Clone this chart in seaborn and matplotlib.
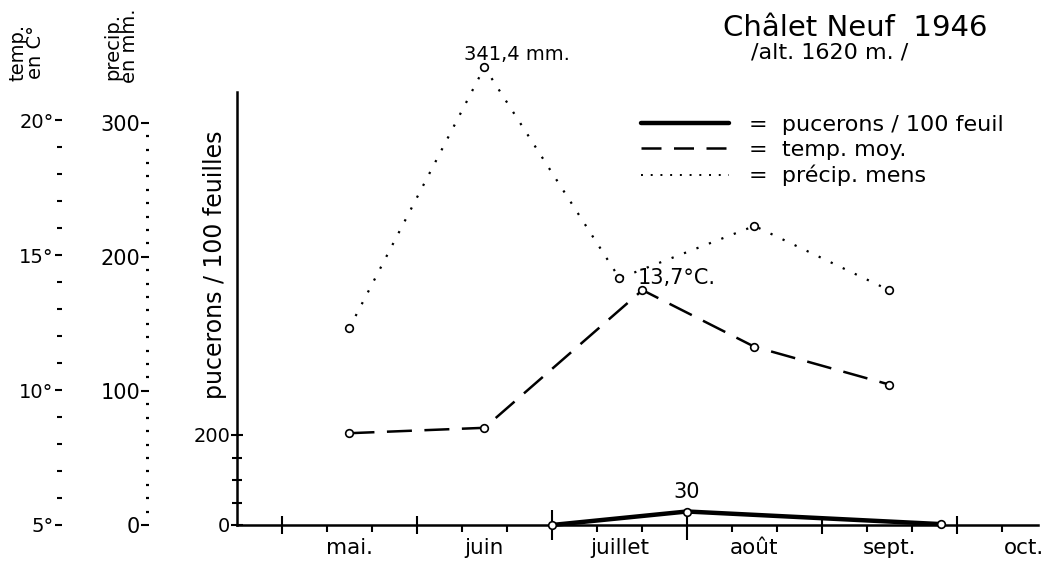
import numpy as np
import pandas as pd
import matplotlib
matplotlib.use("Agg")
import matplotlib.pyplot as plt
import matplotlib.ticker as mticker
import matplotlib.transforms as mtrans
from matplotlib.lines import Line2D
import seaborn as sns

# ---------------- data (x in months: 5 = 1 May, 6 = 1 June, ...) ----------------
month_labels = ["mai.", "juin", "juillet", "août", "sept.", "oct."]
month_starts = [5, 6, 7, 8, 9, 10]

temp_x = [5.5, 6.5, 7.67, 8.5, 9.5]
temp_c = [8.4, 8.6, 13.7, 11.6, 10.2]

precip_x = [5.5, 6.5, 7.5, 8.5, 9.5]
precip_mm = [147, 341.4, 184, 223, 175]

aphid_x = [7.0, 8.0, 9.88]
aphid_n = [0, 30, 2]

temp_ticks = [5, 10, 15, 20]
precip_ticks = [0, 100, 200, 300]
aphid_ticks = [0, 200]

df_t = pd.DataFrame({"x": temp_x, "y": temp_c})
df_p = pd.DataFrame({"x": precip_x, "y": precip_mm})
df_a = pd.DataFrame({"x": aphid_x, "y": aphid_n})

# ---------------- style ----------------
sns.set_theme(style="white")
plt.rcParams["font.family"] = ["DejaVu Sans"]
plt.rcParams["text.color"] = "black"
plt.rcParams["axes.edgecolor"] = "black"
plt.rcParams["xtick.color"] = "black"
plt.rcParams["ytick.color"] = "black"

W, H = 1059, 566
fig = plt.figure(figsize=(W / 100, H / 100), dpi=100)
fig.patch.set_facecolor("white")

ax_left, ax_bottom, ax_w, ax_h = 237, 41, 801, 433
ax = fig.add_axes([ax_left / W, ax_bottom / H, ax_w / W, ax_h / H])
ax.set_xlim(4.667, 10.6)
ax.set_ylim(0, 433 / 0.45)

ax_t = ax.twinx()
ax_t.set_ylim(5, 5 + 433 / 27)
ax_p = ax.twinx()
ax_p.set_ylim(0, 433 / 1.341)

lw_axis = 1.8
mk = dict(marker="o", markersize=5.5, markerfacecolor="white",
          markeredgecolor="black", markeredgewidth=1.2, clip_on=False)

# ---------------- series ----------------
sns.lineplot(data=df_p, x="x", y="y", ax=ax_p, color="black",
             linewidth=1.6, linestyle=(0, (1, 5)), **mk)
sns.lineplot(data=df_t, x="x", y="y", ax=ax_t, color="black",
             linewidth=1.8, linestyle=(0, (10, 5)), **mk)
sns.lineplot(data=df_a, x="x", y="y", ax=ax, color="black",
             linewidth=3.2, solid_capstyle="butt", zorder=5, **mk)

for a in (ax, ax_t, ax_p):
    a.set_xlabel("")
    a.set_ylabel("")

# ---------------- main axis (aphids) ----------------
for s in ("top", "right"):
    ax.spines[s].set_visible(False)
ax.spines["left"].set_linewidth(lw_axis)
ax.spines["bottom"].set_linewidth(lw_axis)
ax.yaxis.set_ticks_position("left")
ax.xaxis.set_ticks_position("bottom")
ax.set_yticks(aphid_ticks)
ax.set_yticklabels([str(v) for v in aphid_ticks], fontsize=14)
ax.yaxis.set_minor_locator(mticker.FixedLocator([50, 100, 150]))
ax.tick_params(axis="y", which="major", direction="inout", length=8, width=1.5, pad=1)
ax.tick_params(axis="y", which="minor", direction="inout", length=7, width=1.5)

# x axis: month boundaries as major ticks, 10-day marks as minor
ax.set_xticks(month_starts)
ax.set_xticklabels([""] * len(month_starts))
minor_x = [m + k / 3 for m in month_starts[:-1] for k in (1, 2)] + [10 + 1 / 3]
ax.xaxis.set_minor_locator(mticker.FixedLocator(minor_x))
ax.tick_params(axis="x", which="major", direction="inout", length=13, width=1.5,
               bottom=True)
ax.tick_params(axis="x", which="minor", direction="out", length=5, width=1.5,
               bottom=True)
# longer marks at the sampling dates of July and August
for tk in ax.xaxis.get_major_ticks():
    if np.isclose(tk.get_loc(), 7) or np.isclose(tk.get_loc(), 8):
        tk.tick1line.set_markersize(22)

trans_x = mtrans.blended_transform_factory(ax.transData, ax.transAxes)
for m, lab in zip(month_starts, month_labels):
    ax.text(m + 0.5, -23 / 433, lab, transform=trans_x, ha="center", va="center",
            fontsize=15.5)

ax.text(-22 / 801, 0.60, "pucerons / 100 feuilles", transform=ax.transAxes,
        rotation=90, ha="center", va="center", fontsize=17)

# ---------------- temperature axis ----------------
for s in ax_t.spines.values():
    s.set_visible(False)
ax_t.yaxis.set_ticks_position("left")
ax_t.yaxis.set_label_position("left")
ax_t.spines["left"].set_position(("axes", (62 - ax_left) / ax_w))
ax_t.set_yticks(temp_ticks)
ax_t.set_yticklabels([f"{v}°" for v in temp_ticks], fontsize=14)
ax_t.yaxis.set_minor_locator(mticker.FixedLocator(
    [v for v in range(6, 20) if v not in temp_ticks]))
ax_t.tick_params(axis="y", which="major", direction="out", length=5, width=1.5, pad=1)
ax_t.tick_params(axis="y", which="minor", direction="out", length=3.5, width=1.5)

# ---------------- precipitation axis ----------------
for s in ax_p.spines.values():
    s.set_visible(False)
ax_p.yaxis.set_ticks_position("left")
ax_p.yaxis.set_label_position("left")
ax_p.spines["left"].set_position(("axes", (149 - ax_left) / ax_w))
ax_p.set_yticks(precip_ticks)
ax_p.set_yticklabels([str(v) for v in precip_ticks], fontsize=15)
ax_p.yaxis.set_minor_locator(mticker.FixedLocator(
    [v for v in range(10, 300, 10) if v not in precip_ticks]))
ax_p.tick_params(axis="y", which="major", direction="out", length=5.5, width=1.5, pad=1)
ax_p.tick_params(axis="y", which="minor", direction="out", length=2.2, width=1.6)
# half-hundred marks drawn a little longer
for tk in ax_p.yaxis.get_minor_ticks():
    if tk.get_loc() % 100 == 50:
        tk.tick1line.set_markersize(5.5)

# axis titles
fig.text(27 / W, 1 - 52 / H, "temp.\nen C°", rotation=90, ha="center", va="center",
         fontsize=14, linespacing=0.9)
fig.text(121 / W, 1 - 46 / H, "precip.\nen mm.", rotation=90, ha="center", va="center",
         fontsize=14, linespacing=0.9)

# ---------------- annotations ----------------
ax_p.annotate("341,4 mm.", xy=(precip_x[1], precip_mm[1]), xytext=(-20, 13),
              textcoords="offset pixels", ha="left", va="center", fontsize=14,
              annotation_clip=False)
ax_t.annotate("13,7°C.", xy=(temp_x[2], temp_c[2]), xytext=(-5, 12),
              textcoords="offset pixels", ha="left", va="center", fontsize=15,
              annotation_clip=False)
ax.annotate("30", xy=(aphid_x[1], aphid_n[1]), xytext=(0, 19),
            textcoords="offset pixels", ha="center", va="center", fontsize=15,
            annotation_clip=False)

# ---------------- title ----------------
fig.text(855 / W, 1 - 28 / H, "Châlet Neuf  1946", ha="center", va="center", fontsize=21)
fig.text(830 / W, 1 - 53 / H, "/alt. 1620 m. /", ha="center", va="center", fontsize=16)

# ---------------- legend ----------------
handles = [
    Line2D([], [], color="black", linewidth=3.2),
    Line2D([], [], color="black", linewidth=1.8, linestyle=(0, (8, 5))),
    Line2D([], [], color="black", linewidth=1.4, linestyle=(0, (1, 4))),
]
labels = ["=  pucerons / 100 feuil", "=  temp. moy.", "=  précip. mens"]
fig.legend(handles, labels, loc="upper left", bbox_to_anchor=(641 / W, 1 - 115 / H),
           frameon=False, fontsize=16, handlelength=3.95, handletextpad=0.9,
           labelspacing=0.22, borderaxespad=0, borderpad=0)

fig.savefig("out.png", dpi=100, facecolor="white")
